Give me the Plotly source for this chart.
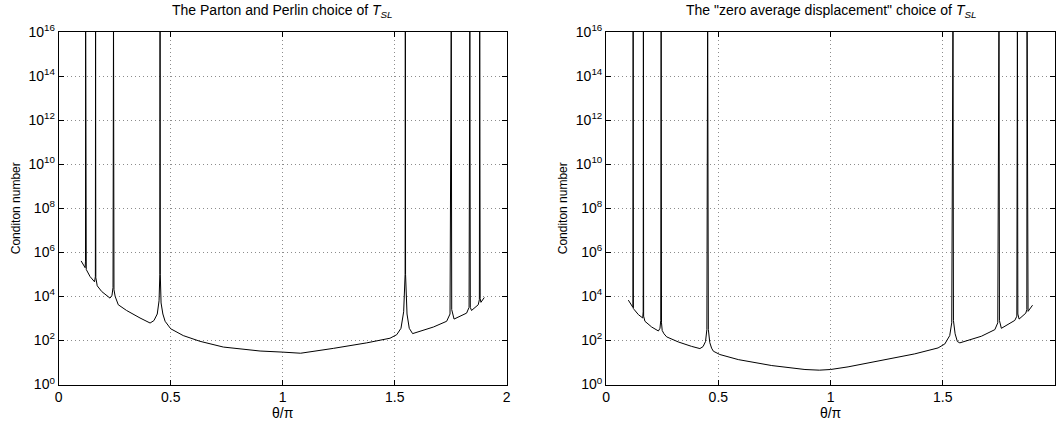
import plotly.graph_objects as go

# Left panel: Parton and Perlin choice
theta_pp = [0.100, 0.110, 0.118, 0.1197, 0.1202, 0.1207, 0.123, 0.140, 0.160, 0.1637,
            0.1647, 0.1657, 0.172, 0.192, 0.229, 0.238, 0.2425, 0.2447, 0.2468, 0.252,
            0.266, 0.303, 0.363, 0.408, 0.425, 0.440, 0.448, 0.4515, 0.4525, 0.4535,
            0.457, 0.465, 0.475, 0.500, 0.556, 0.631, 0.735, 0.899, 1.000, 1.080,
            1.226, 1.375, 1.479, 1.509, 1.528, 1.540, 1.5465, 1.5475, 1.5485, 1.555,
            1.565, 1.580, 1.673, 1.732, 1.747, 1.7525, 1.7545, 1.765, 1.821, 1.832,
            1.8355, 1.8375, 1.843, 1.873, 1.878, 1.8795, 1.8815, 1.885, 1.900]
cond_pp = [4.07e5, 2.69e5, 2.0e5, 3.98e5, 1e17, 3.16e5, 1.66e5, 7.94e4, 4.57e4, 7.94e4,
           1e17, 7.08e4, 3.02e4, 1.66e4, 8318, 1.12e4, 2.51e4, 1e17, 2.0e4, 1e4,
           4169, 2291, 1047, 617, 794, 1585, 6310, 1e5, 1e17, 1e5,
           5012, 1585, 741, 339, 166, 91.2, 50.1, 33.1, 29.5, 26.3,
           43.6, 77.6, 126, 182, 355, 1995, 1e5, 1e17, 1e5, 1585,
           355, 204, 407, 741, 1585, 1e17, 2512, 933, 1738, 3162,
           1e17, 3162, 2291, 4169, 7079, 1e17, 7943, 5370, 8913]

# Right panel: "zero average displacement" choice
theta_zad = [0.099, 0.114, 0.1195, 0.1205, 0.1215, 0.126, 0.144, 0.163, 0.1652, 0.1662,
             0.1672, 0.173, 0.203, 0.233, 0.240, 0.2435, 0.2452, 0.2468, 0.250, 0.258,
             0.270, 0.322, 0.381, 0.418, 0.432, 0.443, 0.449, 0.4525, 0.4555, 0.462,
             0.470, 0.478, 0.507, 0.589, 0.738, 0.886, 0.950, 1.000, 1.078, 1.227,
             1.375, 1.479, 1.509, 1.531, 1.540, 1.5455, 1.5475, 1.555, 1.565, 1.576,
             1.672, 1.732, 1.745, 1.7505, 1.7525, 1.761, 1.821, 1.830, 1.8325, 1.8345,
             1.840, 1.870, 1.8745, 1.8755, 1.8775, 1.880, 1.900]
cond_zad = [6761, 3715, 3162, 1e17, 2818, 2455, 1479, 1047, 1995, 1e17,
            1259, 741, 407, 269, 355, 794, 1e17, 631, 282, 200,
            145, 85.1, 53.7, 42.7, 52.5, 89.1, 316, 1e17, 316, 79.4,
            44.7, 32.4, 22.9, 13.5, 7.24, 4.79, 4.47, 4.79, 6.31, 12.3,
            24.5, 45.7, 69.2, 166, 631, 1e17, 794, 200, 89.1, 77.6,
            155, 309, 631, 1e17, 794, 355, 813, 1259, 1e17, 1585,
            933, 1738, 2512, 1e17, 3162, 2089, 3981]

x_ticks = [0, 0.5, 1, 1.5, 2]
x_ticklabels = ["0", "0.5", "1", "1.5", "2"]
y_exponents = [0, 2, 4, 6, 8, 10, 12, 14, 16]
y_ticks = [10 ** e for e in y_exponents]
y_ticklabels = ["10<sup>%d</sup>" % e for e in y_exponents]

titles = ["The Parton and Perlin choice of <i>T</i><sub><i>SL</i></sub>",
          "The \"zero average displacement\" choice of <i>T</i><sub><i>SL</i></sub>"]

FONT = "Liberation Sans, Arial, Helvetica, sans-serif"
W, H = 1056, 425
GRID = "#8c8c8c"

fig = go.Figure()
fig.add_trace(go.Scatter(x=theta_pp, y=cond_pp, mode="lines",
                         line=dict(color="black", width=1), xaxis="x", yaxis="y",
                         showlegend=False, hoverinfo="skip"))
fig.add_trace(go.Scatter(x=theta_zad, y=cond_zad, mode="lines",
                         line=dict(color="black", width=1), xaxis="x2", yaxis="y2",
                         showlegend=False, hoverinfo="skip"))

xdom = [[58.7 / W, 506.7 / W], [606.1 / W, 1055.0 / W]]
ydom = [(H - 384.5) / H, (H - 32.0) / H]

def xax(dom, anchor):
    return dict(domain=dom, anchor=anchor, range=[0, 2], tickvals=x_ticks, ticktext=x_ticklabels,
                showgrid=True, gridcolor=GRID, griddash="1px,3px", gridwidth=1,
                zeroline=False, showline=True, linecolor="black", linewidth=1, mirror="ticks",
                ticks="inside", ticklen=5, tickcolor="black", automargin=False,
                tickfont=dict(family=FONT, size=14, color="black"),
                title=dict(text="θ/π", font=dict(family=FONT, size=14, color="black"), standoff=2))

def yax(anchor):
    return dict(domain=ydom, anchor=anchor, type="log", range=[0, 16], tickvals=y_ticks,
                ticktext=y_ticklabels, showgrid=True, gridcolor=GRID, griddash="1px,3px",
                gridwidth=1, zeroline=False, showline=True, linecolor="black", linewidth=1,
                mirror="ticks", ticks="inside", ticklen=5, tickcolor="black", automargin=False,
                tickfont=dict(family=FONT, size=14, color="black"),
                title=dict(text="Conditon number", font=dict(family=FONT, size=12, color="black"),
                           standoff=5))

fig.update_layout(
    template="none",
    width=W, height=H, margin=dict(l=0, r=0, t=0, b=0, autoexpand=False),
    paper_bgcolor="white", plot_bgcolor="white",
    xaxis=xax(xdom[0], "y"), yaxis=yax("x"),
    xaxis2=xax(xdom[1], "y2"), yaxis2=yax("x2"),
    showlegend=False,
)
for i, t in enumerate(titles):
    fig.add_annotation(text=t, xref="paper", yref="paper",
                       x=(xdom[i][0] + xdom[i][1]) / 2, y=1.0,
                       xanchor="center", yanchor="top", showarrow=False,
                       font=dict(family=FONT, size=14, color="black"))

fig.write_html("out.html", config={"displayModeBar": False},
               post_script="document.body.style.margin='0';document.body.style.overflow='hidden';")
